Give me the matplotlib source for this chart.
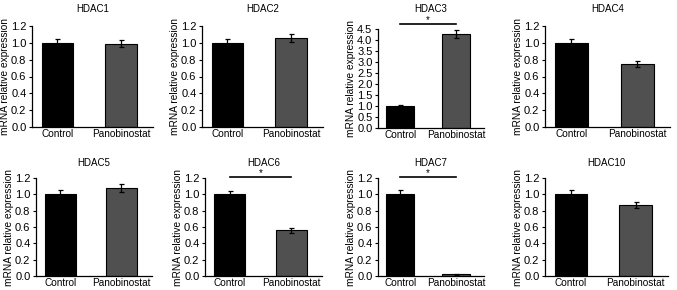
import numpy as np
import matplotlib
matplotlib.use("Agg")
import matplotlib.pyplot as plt

plt.rcParams['font.family'] = ['Liberation Sans', 'DejaVu Sans']

# data
genes = ['HDAC1', 'HDAC2', 'HDAC3', 'HDAC4', 'HDAC5', 'HDAC6', 'HDAC7', 'HDAC10']
groups = ['Control', 'Panobinostat']
control_mean = [1.00, 1.00, 1.00, 1.00, 1.00, 1.00, 1.00, 1.00]
control_err = [0.05, 0.05, 0.04, 0.05, 0.05, 0.045, 0.05, 0.05]
pano_mean = [0.99, 1.06, 4.27, 0.75, 1.08, 0.56, 0.02, 0.87]
pano_err = [0.04, 0.05, 0.20, 0.04, 0.05, 0.03, 0.004, 0.04]
# height of the significance bar (None = no bar)
sig_y = [None, None, 4.73, None, None, 1.21, 1.21, None]
y_max = [1.2, 1.2, 4.5, 1.2, 1.2, 1.2, 1.2, 1.2]
y_step = [0.2, 0.2, 0.5, 0.2, 0.2, 0.2, 0.2, 0.2]

W, H = 677, 290
fig = plt.figure(figsize=(W / 100, H / 100), dpi=100)

# axes boxes in pixels: left, right, top, bottom
lefts = [32, 202, 378, 545, 36, 205, 378, 545]
rights = [153, 323, 484, 670, 152, 322, 484, 668]
tops = [26, 26, 29, 26, 178, 178, 178, 178]
bottoms = [127, 127, 128, 127, 276, 276, 276, 276]
title_pad = [10, 10, 12, 10, 8.5, 8.5, 8.5, 8.5]

for i, g in enumerate(genes):
    l, r, t, b = lefts[i], rights[i], tops[i], bottoms[i]
    ax = fig.add_axes([l / W, 1 - b / H, (r - l) / W, (b - t) / H])
    x = np.arange(2)
    means = [control_mean[i], pano_mean[i]]
    errs = [control_err[i], pano_err[i]]
    ax.bar(x, means, width=0.5, color=['#000000', '#505050'],
           edgecolor='black', linewidth=0.8, zorder=2)
    ax.errorbar(x, means, yerr=errs, fmt='none', ecolor='black',
                elinewidth=0.9, capsize=1.8, capthick=0.9, zorder=3)
    ax.set_xlim(-0.4, 1.5)
    ax.set_ylim(0, y_max[i])
    ax.set_yticks(np.arange(0, y_max[i] + 1e-6, y_step[i]))
    ax.yaxis.set_major_formatter(matplotlib.ticker.FormatStrFormatter('%.1f'))
    ax.set_xticks(x)
    ax.set_xticklabels(groups)
    ax.tick_params(axis='x', length=0, pad=1.5, labelsize=7.2)
    ax.tick_params(axis='y', length=2.5, width=0.8, pad=1.5, labelsize=8)
    for s in ['top', 'right']:
        ax.spines[s].set_visible(False)
    for s in ['left', 'bottom']:
        ax.spines[s].set_linewidth(0.9)
    ax.set_ylabel('mRNA relative expression', fontsize=7.3, labelpad=1)
    ax.set_title(g, fontsize=7, pad=title_pad[i])
    if sig_y[i] is not None:
        yl = sig_y[i]
        ax.plot([0, 1], [yl, yl], color='black', lw=1.2, clip_on=False)
        ax.annotate('*', xy=(0.5, yl), xytext=(0, 0.5), textcoords='offset points',
                    ha='center', va='baseline', fontsize=7, annotation_clip=False)

fig.savefig('out.png', dpi=100)
